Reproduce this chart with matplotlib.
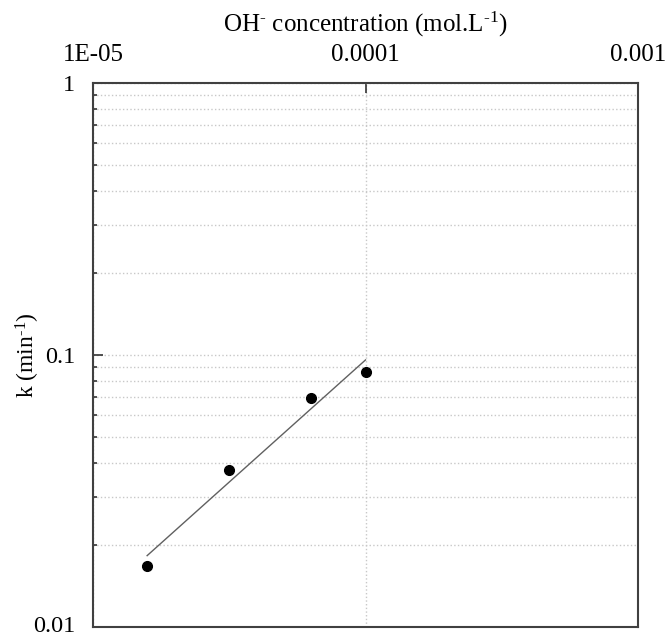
import numpy as np
import matplotlib.pyplot as plt
import matplotlib.transforms as mtransforms
from matplotlib.ticker import LogLocator, NullFormatter, FixedLocator, FixedFormatter

plt.rcParams['font.family'] = ['Liberation Serif', 'DejaVu Serif']
plt.rcParams['mathtext.fontset'] = 'custom'
plt.rcParams['mathtext.rm'] = 'Liberation Serif'
plt.rcParams['mathtext.it'] = 'Liberation Serif:italic'

# data
oh_conc = [1.58e-5, 3.16e-5, 6.31e-5, 1.0e-4]
k_rate = [0.0168, 0.0377, 0.0694, 0.0863]
x_ticks = [1e-5, 1e-4, 1e-3]
x_ticklabels = ['1E-05', '0.0001', '0.001']
y_ticks = [0.01, 0.1, 1]
y_ticklabels = ['0.01', '0.1', '1']

# power-law trendline (least squares in log-log space)
slope, intercept = np.polyfit(np.log10(oh_conc), np.log10(k_rate), 1)
fit_x = np.array([oh_conc[0], oh_conc[-1]])
fit_y = 10 ** (intercept + slope * np.log10(fit_x))

fig = plt.figure(figsize=(6.67, 6.37), dpi=100)
ax = fig.add_axes([93 / 667, 1 - 627 / 637, (638 - 93) / 667, (627 - 83) / 637])

ax.set_xscale('log')
ax.set_yscale('log')
ax.set_xlim(1e-5, 1e-3)
ax.set_ylim(0.01, 1)

ax.plot(fit_x, fit_y, color='#606060', linewidth=1.0, zorder=2)
ax.plot(oh_conc, k_rate, 'o', color='black', markersize=7, zorder=3)

# axes: x labels on top
ax.xaxis.set_ticks_position('top')
ax.xaxis.set_label_position('top')
ax.xaxis.set_major_locator(FixedLocator(x_ticks))
ax.xaxis.set_major_formatter(FixedFormatter(x_ticklabels))
ax.xaxis.set_minor_locator(FixedLocator([]))
ax.yaxis.set_major_locator(FixedLocator(y_ticks))
ax.yaxis.set_major_formatter(FixedFormatter(y_ticklabels))
ax.yaxis.set_minor_locator(LogLocator(base=10, subs=np.arange(2, 10)))
ax.yaxis.set_minor_formatter(NullFormatter())

ax.tick_params(axis='x', which='major', direction='in', length=7, width=1.2,
               color='#333333', labelsize=18, pad=12)
ax.tick_params(axis='y', which='major', direction='in', length=7, width=1.2,
               color='#333333', labelsize=17.5, pad=13)
ax.tick_params(axis='y', which='minor', direction='in', length=3, width=1.2,
               color='#333333')

ax.grid(True, axis='x', which='major', linestyle=':', color='#c8c8c8', linewidth=1)
ax.grid(True, axis='y', which='both', linestyle=':', color='#c8c8c8', linewidth=1)
ax.set_axisbelow(True)

for s in ax.spines.values():
    s.set_color('#404040')
    s.set_linewidth(1.5)

ax.set_xlabel(r'OH$^{\text{-}}$ concentration (mol.L$^{\text{-1}}$)', fontsize=18, labelpad=9)
ax.set_ylabel(r'k (min$^{\text{-1}}$)', fontsize=17)
ax.yaxis.set_label_coords(-0.094, 0.5)

# nudge the bottom tick label up a little so it stays inside the figure
fig.canvas.draw()
bottom_lab = ax.get_yticklabels()[0]
bottom_lab.set_transform(bottom_lab.get_transform() +
                         mtransforms.ScaledTranslation(0, 3 / 100, fig.dpi_scale_trans))

fig.savefig('out.png', dpi=100)
